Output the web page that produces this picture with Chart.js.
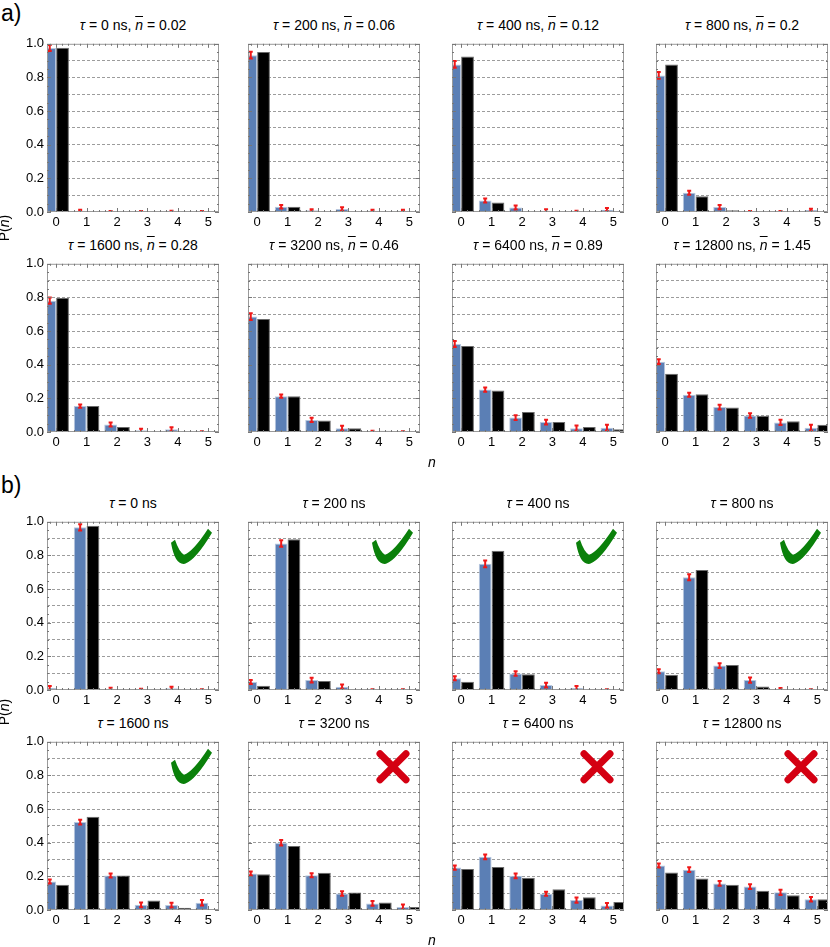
<!DOCTYPE html>
<html>
<head>
<meta charset="utf-8">
<script src="https://cdn.jsdelivr.net/npm/chart.js@4"></script>
<style>
  body { margin: 0; background: #fff; width: 830px; height: 947px; overflow: hidden; position: relative;
         font-family: "Liberation Sans", Arial, sans-serif; color: #000; }
  .box { position: absolute; }
  .ttl { position: absolute; width: 172px; text-align: center; font-size: 14px; line-height: 16px; white-space: nowrap; }
  .ol { text-decoration: overline; }
  .tag { position: absolute; font-size: 23px; line-height: 24px; }
  .ax { position: absolute; font-size: 14px; line-height: 16px; white-space: nowrap; }
</style>
</head>
<body>
<div class="tag" style="left:1px; top:1px;">a)</div>
<div class="tag" style="left:1px; top:473px;">b)</div>
<script>
// photon number levels and panel labels
const nLevels = [0, 1, 2, 3, 4, 5];
const tauLabels = ['0', '200', '400', '800', '1600', '3200', '6400', '12800'];
const nbarA = ['0.02', '0.06', '0.12', '0.2', '0.28', '0.46', '0.89', '1.45'];
const verdictB = ['ok', 'ok', 'ok', 'ok', 'ok', 'bad', 'bad', 'bad'];

// a) measured P(n), theory, error bars (one row per tau)
const measA = [
  [0.975, 0.008, 0.002, 0.002, 0.003, 0.002],
  [0.932, 0.031, 0.010, 0.018, 0.008, 0.007],
  [0.877, 0.068, 0.027, 0.008, 0.002, 0.014],
  [0.812, 0.115, 0.029, 0.002, 0.002, 0.012],
  [0.781, 0.154, 0.045, 0.010, 0.016, 0.001],
  [0.686, 0.213, 0.072, 0.023, 0.003, 0.001],
  [0.523, 0.252, 0.086, 0.059, 0.023, 0.025],
  [0.418, 0.221, 0.148, 0.098, 0.057, 0.025]
];
const theoryA = [
  [0.977, 0.006, 0.001, 0.000, 0.000, 0.000],
  [0.951, 0.031, 0.004, 0.001, 0.001, 0.000],
  [0.924, 0.057, 0.004, 0.001, 0.000, 0.000],
  [0.877, 0.094, 0.010, 0.001, 0.001, 0.000],
  [0.797, 0.154, 0.029, 0.006, 0.002, 0.001],
  [0.672, 0.213, 0.068, 0.023, 0.008, 0.003],
  [0.512, 0.246, 0.119, 0.059, 0.029, 0.016],
  [0.346, 0.225, 0.145, 0.096, 0.064, 0.043]
];
const errA = [
  [0.018, 0.005, 0.004, 0.004, 0.004, 0.004],
  [0.020, 0.010, 0.007, 0.010, 0.006, 0.006],
  [0.020, 0.012, 0.012, 0.008, 0.005, 0.010],
  [0.020, 0.012, 0.012, 0.004, 0.004, 0.008],
  [0.018, 0.010, 0.012, 0.010, 0.012, 0.004],
  [0.020, 0.010, 0.012, 0.014, 0.004, 0.004],
  [0.018, 0.012, 0.014, 0.014, 0.016, 0.018],
  [0.014, 0.012, 0.014, 0.014, 0.016, 0.018]
];

// b) measured P(n), theory, error bars
const measB = [
  [0.012, 0.967, 0.006, 0.002, 0.010, 0.001],
  [0.047, 0.871, 0.059, 0.020, 0.001, 0.001],
  [0.070, 0.750, 0.098, 0.029, 0.012, 0.001],
  [0.111, 0.670, 0.145, 0.059, 0.006, 0.001],
  [0.170, 0.523, 0.205, 0.031, 0.029, 0.043],
  [0.217, 0.400, 0.207, 0.098, 0.039, 0.018],
  [0.252, 0.316, 0.203, 0.096, 0.059, 0.027],
  [0.264, 0.240, 0.158, 0.139, 0.105, 0.064]
];
const theoryB = [
  [0.001, 0.977, 0.005, 0.001, 0.001, 0.000],
  [0.025, 0.896, 0.053, 0.002, 0.000, 0.000],
  [0.049, 0.828, 0.094, 0.006, 0.001, 0.000],
  [0.090, 0.713, 0.148, 0.021, 0.003, 0.000],
  [0.150, 0.555, 0.205, 0.057, 0.014, 0.002],
  [0.213, 0.381, 0.221, 0.104, 0.045, 0.018],
  [0.244, 0.256, 0.191, 0.123, 0.076, 0.047],
  [0.223, 0.188, 0.150, 0.115, 0.088, 0.064]
];
const errB = [
  [0.012, 0.018, 0.008, 0.005, 0.010, 0.004],
  [0.012, 0.020, 0.014, 0.012, 0.004, 0.004],
  [0.012, 0.020, 0.014, 0.014, 0.012, 0.004],
  [0.012, 0.018, 0.014, 0.016, 0.006, 0.004],
  [0.012, 0.014, 0.012, 0.014, 0.014, 0.016],
  [0.012, 0.016, 0.012, 0.014, 0.014, 0.014],
  [0.012, 0.014, 0.014, 0.012, 0.016, 0.014],
  [0.012, 0.014, 0.014, 0.014, 0.016, 0.014]
];

// layout of the 4x4 grid of plot boxes
const plotLeft = [47, 248, 452, 656];
const plotTop = [41, 261, 519, 739];
const plotW = 172, plotH = 171;
const padL = 40, padT = 8, padR = 3, padB = 20;

const tickFont = { family: 'Liberation Sans, Arial, sans-serif', size: 13 };
Chart.defaults.font.family = tickFont.family;
Chart.defaults.font.size = 13;
Chart.defaults.color = '#000';

function drawCheck(ctx, a) {
  const L = a.left, T = a.top;
  ctx.fillStyle = '#0a800a';
  ctx.beginPath();
  ctx.moveTo(L + 124, T + 21);
  ctx.quadraticCurveTo(L + 128, T + 44, L + 138, T + 42);
  ctx.quadraticCurveTo(L + 149, T + 38, L + 165, T + 11);
  ctx.lineTo(L + 161, T + 7);
  ctx.quadraticCurveTo(L + 146, T + 30, L + 137, T + 33);
  ctx.quadraticCurveTo(L + 132, T + 30, L + 128, T + 18);
  ctx.closePath();
  ctx.fill();
}

function drawCross(ctx, a) {
  const L = a.left, T = a.top;
  ctx.strokeStyle = '#d40012';
  ctx.lineWidth = 7;
  ctx.lineCap = 'round';
  ctx.beginPath();
  ctx.moveTo(L + 132, T + 12); ctx.lineTo(L + 158, T + 38);
  ctx.moveTo(L + 158, T + 12); ctx.lineTo(L + 132, T + 38);
  ctx.stroke();
}

// frame with small ticks, error bars and verdict marks
const framePlugin = {
  id: 'frame',
  afterDatasetsDraw(chart, args, opts) {
    const { ctx, chartArea: a, scales: { x, y } } = chart;
    ctx.save();
    // error bars on the measured bars
    ctx.beginPath();
    ctx.rect(a.left, a.top - 5, a.right - a.left, a.bottom - a.top + 5);
    ctx.clip();
    ctx.strokeStyle = '#f01818';
    ctx.lineWidth = 2;
    const meta = chart.getDatasetMeta(0);
    const vals = chart.data.datasets[0].data;
    meta.data.forEach((bar, i) => {
      const v = vals[i].y, e = opts.err[i];
      const y1 = y.getPixelForValue(v - e), y2 = y.getPixelForValue(v + e);
      ctx.beginPath();
      ctx.moveTo(bar.x, y1); ctx.lineTo(bar.x, y2);
      ctx.moveTo(bar.x - 2, y1); ctx.lineTo(bar.x + 2, y1);
      ctx.moveTo(bar.x - 2, y2); ctx.lineTo(bar.x + 2, y2);
      ctx.stroke();
    });
    ctx.restore();
    ctx.save();
    // frame
    ctx.strokeStyle = '#9a9a9a';
    ctx.lineWidth = 1;
    ctx.strokeRect(a.left + 0.5, a.top + 0.5, a.right - a.left - 1, a.bottom - a.top - 1);
    ctx.strokeStyle = '#777';
    ctx.beginPath();
    for (let k = 0; k <= 20; k++) {
      const py = Math.round(y.getPixelForValue(k * 0.05)) + 0.5;
      const len = k % 4 === 0 ? 4 : 2;
      ctx.moveTo(a.left, py); ctx.lineTo(a.left + len, py);
      ctx.moveTo(a.right, py); ctx.lineTo(a.right - len, py);
    }
    for (let k = -1; k <= 26; k++) {
      const v = k * 0.2;
      if (v < x.min || v > x.max) continue;
      const px = Math.round(x.getPixelForValue(v)) + 0.5;
      const len = k % 5 === 0 ? 4 : 2;
      ctx.moveTo(px, a.top); ctx.lineTo(px, a.top + len);
      ctx.moveTo(px, a.bottom); ctx.lineTo(px, a.bottom - len);
    }
    ctx.stroke();
    if (opts.mark === 'ok') drawCheck(ctx, a);
    if (opts.mark === 'bad') drawCross(ctx, a);
    ctx.restore();
  }
};

function addText(cls, html, left, top) {
  const d = document.createElement('div');
  d.className = cls;
  d.innerHTML = html;
  d.style.left = left + 'px';
  d.style.top = top + 'px';
  document.body.appendChild(d);
  return d;
}

function makePanel(group, i) {
  const row = group * 2 + Math.floor(i / 4), col = i % 4;
  const meas = group === 0 ? measA[i] : measB[i];
  const theo = group === 0 ? theoryA[i] : theoryB[i];
  const err = group === 0 ? errA[i] : errB[i];
  const L = plotLeft[col], T = plotTop[row];

  let title = '<i>τ</i> = ' + tauLabels[i] + ' ns';
  if (group === 0) title += ', <i class="ol">n</i> = ' + nbarA[i];
  addText('ttl', title, L, T - 24);

  const box = document.createElement('div');
  box.className = 'box';
  box.style.left = (L - padL) + 'px';
  box.style.top = (T - padT) + 'px';
  const cv = document.createElement('canvas');
  cv.width = padL + plotW + padR;
  cv.height = padT + plotH + padB;
  box.appendChild(cv);
  document.body.appendChild(box);

  new Chart(cv.getContext('2d'), {
    type: 'bar',
    data: {
      datasets: [{
        label: 'measured',
        data: nLevels.map((n, k) => ({ x: n, y: meas[k] })),
        backgroundColor: '#5b7fb5',
        borderColor: '#b9c8de',
        borderWidth: 1,
        categoryPercentage: 0.84,
        barPercentage: 1,
        clip: 0
      }, {
        label: 'theory',
        data: nLevels.map((n, k) => ({ x: n, y: theo[k] })),
        backgroundColor: '#000',
        borderColor: '#6a6a6a',
        borderWidth: 1,
        categoryPercentage: 0.84,
        barPercentage: 1,
        clip: 0
      }]
    },
    options: {
      responsive: false,
      animation: false,
      layout: { padding: { top: padT, right: padR, left: 0, bottom: 0 } },
      plugins: {
        legend: { display: false },
        tooltip: { enabled: false },
        frame: { err: err, mark: group === 1 ? (verdictB[i] === 'ok' ? 'ok' : 'bad') : null }
      },
      scales: {
        x: {
          type: 'linear',
          offset: false,
          min: -0.3,
          max: 5.35,
          afterBuildTicks: s => { s.ticks = nLevels.map(v => ({ value: v })); },
          afterFit: s => { s.height = padB; },
          ticks: { font: tickFont, padding: 3, maxRotation: 0, minRotation: 0, autoSkip: false, callback: v => String(v) },
          grid: { display: false, drawTicks: false, offset: false },
          border: { display: false }
        },
        y: {
          min: 0,
          max: 1,
          afterFit: s => { s.width = padL; },
          ticks: {
            font: tickFont,
            stepSize: 0.1,
            padding: 3,
            autoSkip: false,
            callback: v => (col === 0 && Math.round(v * 10) % 2 === 0) ? v.toFixed(1) : ''
          },
          grid: {
            drawTicks: false,
            lineWidth: 1,
            color: c => (c.tick && (c.tick.value < 0.001 || c.tick.value > 0.999)) ? 'rgba(0,0,0,0)' : '#9c9c9c'
          },
          border: { display: false, dash: [3, 2] }
        }
      }
    },
    plugins: [framePlugin]
  });
}

for (let g = 0; g < 2; g++) {
  for (let i = 0; i < 8; i++) makePanel(g, i);
}

// axis labels
addText('ax', '<i>n</i>', 428, 454);
addText('ax', '<i>n</i>', 428, 932);
const p1 = addText('ax', 'P(<i>n</i>)', -9, 220);
p1.style.transform = 'rotate(-90deg)';
const p2 = addText('ax', 'P(<i>n</i>)', -9, 704);
p2.style.transform = 'rotate(-90deg)';
</script>
</body>
</html>
